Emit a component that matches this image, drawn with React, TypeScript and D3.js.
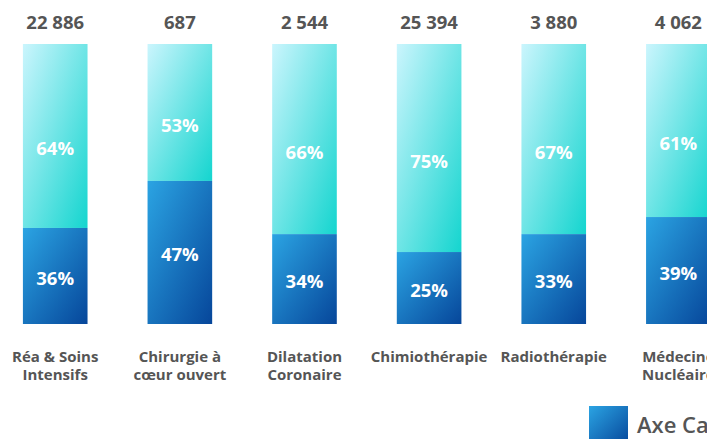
import React from "react";
import * as d3 from "d3";

const categories = [
  "Réa & Soins Intensifs",
  "Chirurgie à cœur ouvert",
  "Dilatation Coronaire",
  "Chimiothérapie",
  "Radiothérapie",
  "Médecine Nucléaire",
];
const categoryLines = [
  ["Réa & Soins", "Intensifs"],
  ["Chirurgie à", "cœur ouvert"],
  ["Dilatation", "Coronaire"],
  ["Chimiothérapie"],
  ["Radiothérapie"],
  ["Médecine", "Nucléaire"],
];
const totals = [22886, 687, 2544, 25394, 3880, 4062];
// share of the dark (blue) segment as drawn, in %
const blueShare = [34.3, 51.1, 32.1, 25.7, 32.1, 38.2];
// printed percentages
const blueLabels = [36, 47, 34, 25, 33, 39];
const cyanLabels = [64, 53, 66, 75, 67, 61];
const legendItems = ["Axe Cancérologie", "Axe Cardiologie"];

const fmt = d3.formatLocale({
  decimal: ",",
  thousands: " ",
  grouping: [3],
  currency: ["", " €"],
}).format(",d");

export default function App() {
  const W = 800;
  const H = 460;
  const x = d3
    .scaleBand<string>()
    .domain(categories)
    .range([-7, 740.6])
    .paddingInner(0.4815)
    .paddingOuter(0.24);
  const y = d3.scaleLinear().domain([0, 100]).range([324, 44]);
  const bw = x.bandwidth();
  const font = "'Open Sans', sans-serif";
  const grey = "#555555";

  return (
    <div
      style={{
        position: "fixed",
        left: 0,
        top: 0,
        width: 707,
        height: 439,
        overflow: "hidden",
        background: "#fff",
      }}
    >
      <svg width={W} height={H} style={{ display: "block" }} fontFamily={font}>
        <defs>
          <linearGradient id="gCyan" x1="0" y1="0" x2="1" y2="1">
            <stop offset="0" stopColor="#cbf5fd" />
            <stop offset="1" stopColor="#14d5cf" />
          </linearGradient>
          <linearGradient id="gBlue" x1="0" y1="0" x2="1" y2="1">
            <stop offset="0" stopColor="#2ba4e3" />
            <stop offset="1" stopColor="#06469a" />
          </linearGradient>
        </defs>
        {categories.map((c, i) => {
          const x0 = x(c)!;
          const cx = x0 + bw / 2;
          const yb = y(blueShare[i]);
          const yTop = y(100);
          const yBot = y(0);
          return (
            <g key={c}>
              <rect x={x0} y={yTop} width={bw} height={yb - yTop} fill="url(#gCyan)" />
              <rect x={x0} y={yb} width={bw} height={yBot - yb} fill="url(#gBlue)" />
              <text
                x={cx}
                y={29}
                textAnchor="middle"
                fontSize={18.5}
                fontWeight={700}
                fill={grey}
              >
                {fmt(totals[i])}
              </text>
              <text
                x={cx}
                y={(yTop + yb) / 2 + 12}
                textAnchor="middle"
                dominantBaseline="central"
                fontSize={18.5}
                fontWeight={700}
                fill="#fff"
              >
                {cyanLabels[i]}%
              </text>
              <text
                x={cx}
                y={(yb + yBot) / 2 + 1.5}
                textAnchor="middle"
                dominantBaseline="central"
                fontSize={18.5}
                fontWeight={700}
                fill="#fff"
              >
                {blueLabels[i]}%
              </text>
              {categoryLines[i].map((ln, k) => (
                <text
                  key={k}
                  x={cx}
                  y={361.5 + k * 18.5}
                  textAnchor="middle"
                  fontSize={15}
                  fontWeight={700}
                  fill={grey}
                >
                  {ln}
                </text>
              ))}
            </g>
          );
        })}
        <g>
          <rect x={589} y={406} width={39} height={39} fill="url(#gBlue)" />
          <text x={637} y={433} fontSize={22} fontWeight={600} fill={grey}>
            {legendItems[0]}
          </text>
          <rect x={840} y={406} width={39} height={39} fill="url(#gCyan)" />
          <text x={888} y={433} fontSize={22} fontWeight={600} fill={grey}>
            {legendItems[1]}
          </text>
        </g>
      </svg>
    </div>
  );
}
